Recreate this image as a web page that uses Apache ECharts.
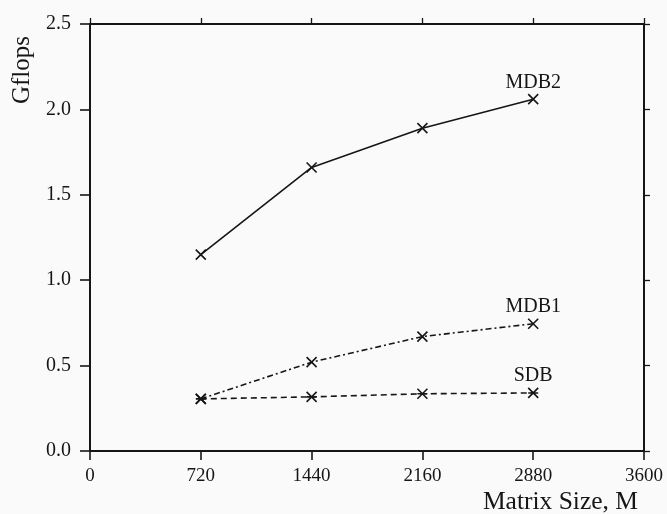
<!DOCTYPE html>
<html>
<head>
<meta charset="utf-8">
<script src="https://cdn.jsdelivr.net/npm/echarts@6/dist/echarts.min.js"></script>
<style>
html,body{margin:0;padding:0;background:#fafafa;}
#c{width:667px;height:514px;}
</style>
</head>
<body>
<div id="c"></div>
<script>
var xValues = [720, 1440, 2160, 2880];
var mdb2 = [1.15, 1.66, 1.89, 2.06];
var mdb1 = [0.305, 0.52, 0.67, 0.745];
var sdb = [0.305, 0.317, 0.335, 0.34];
var seriesNames = ['MDB2', 'MDB1', 'SDB'];
var xTicks = [0, 720, 1440, 2160, 2880, 3600];
var yTicks = [0.0, 0.5, 1.0, 1.5, 2.0, 2.5];
var xTitle = 'Matrix Size, M';
var yTitle = 'Gflops';

var ink = '#161616';
var font = '"Liberation Serif", "DejaVu Serif", serif';
var crossSym = 'path://M0,0L10,10M10,0L0,10';
var starSym = 'path://M0,0L10,10M10,0L0,10M0,5L10,5';

function buildData(vals, name) {
  return vals.map(function (v, i) {
    var item = { value: [xValues[i], v] };
    if (i === vals.length - 1) {
      item.label = { show: true, formatter: name, position: 'top', distance: 1,
        fontFamily: font, fontSize: 20, color: ink };
    }
    return item;
  });
}

function mkSeries(name, vals, dash, sym) {
  return {
    name: name, type: 'line', data: buildData(vals, name),
    symbol: sym, symbolSize: 10, showSymbol: true,
    lineStyle: { color: ink, width: 1.6, type: dash },
    itemStyle: { color: ink, borderColor: ink, borderWidth: 1.6 },
    label: { show: false },
    animation: false, z: 5
  };
}

var frameAxisX = {
  type: 'value', min: xTicks[0], max: xTicks[xTicks.length - 1], interval: 720,
  axisLine: { show: true, onZero: false, lineStyle: { color: ink, width: 2 } },
  splitLine: { show: false }
};
var frameAxisY = {
  type: 'value', min: yTicks[0], max: yTicks[yTicks.length - 1], interval: 0.5,
  axisLine: { show: true, onZero: false, lineStyle: { color: ink, width: 2 } },
  splitLine: { show: false }
};

var chart = echarts.init(document.getElementById('c'), null, { renderer: 'canvas' });
chart.setOption({
  backgroundColor: '#fafafa',
  animation: false,
  grid: { left: 90, right: 23, top: 24, bottom: 63, containLabel: false, outerBoundsMode: 'none' },
  xAxis: [Object.assign({}, frameAxisX, {
    position: 'bottom',
    axisTick: { show: true, inside: false, length: 9, lineStyle: { color: ink, width: 1.6 } },
    axisLabel: { color: ink, fontFamily: font, fontSize: 19, margin: 16,
      formatter: function (v) { return String(v); } }
  }), Object.assign({}, frameAxisX, {
    position: 'top',
    axisTick: { show: true, inside: false, length: 6, lineStyle: { color: ink, width: 1.3 } },
    axisLabel: { show: false }
  })],
  yAxis: [Object.assign({}, frameAxisY, {
    position: 'left',
    axisTick: { show: true, inside: false, length: 10, lineStyle: { color: ink, width: 1.6 } },
    axisLabel: { color: ink, fontFamily: font, fontSize: 20, margin: 19,
      formatter: function (v) { return v.toFixed(1); } }
  }), Object.assign({}, frameAxisY, {
    position: 'right',
    axisTick: { show: true, inside: false, length: 6, lineStyle: { color: ink, width: 1.3 } },
    axisLabel: { show: false }
  })],
  graphic: [
    { type: 'text', x: 638, y: 502, silent: true,
      style: { text: xTitle, fontFamily: font, fontSize: 25.5, fill: ink, align: 'right', verticalAlign: 'middle' } },
    { type: 'text', x: 22, y: 70, rotation: Math.PI / 2, silent: true,
      style: { text: yTitle, fontFamily: font, fontSize: 25, fill: ink, align: 'center', verticalAlign: 'middle' } }
  ],
  series: [
    mkSeries(seriesNames[0], mdb2, 'solid', crossSym),
    mkSeries(seriesNames[1], mdb1, [6, 3, 2, 3], crossSym),
    mkSeries(seriesNames[2], sdb, [6, 4], starSym),
    { type: 'line', xAxisIndex: 1, yAxisIndex: 1, data: [], silent: true, symbol: 'none' }
  ]
});
</script>
</body>
</html>
